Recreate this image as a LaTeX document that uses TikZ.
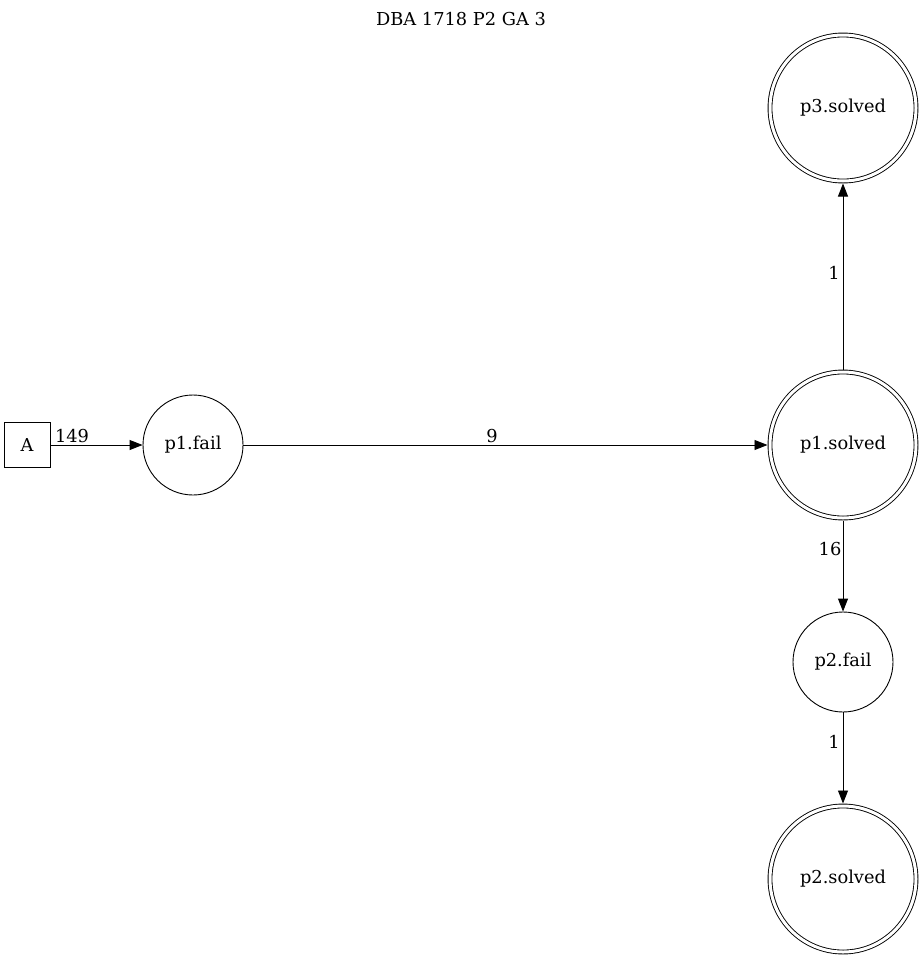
\documentclass[tikz,border=0pt]{standalone}
\usepackage{fontspec}
\setmainfont{DejaVu Serif}
\usetikzlibrary{arrows.meta}
\begin{document}
\begin{tikzpicture}[x=1bp,y=-1bp,
  every node/.style={font=\fontsize{17.8bp}{20bp}\selectfont},
  state/.style={draw,circle,line width=0.9bp,minimum size=100bp,inner sep=0pt},
  final/.style={draw,circle,line width=0.9bp,double,double distance=3bp,minimum size=146bp,inner sep=0pt,outer sep=2.5bp},
  start/.style={draw,rectangle,line width=0.9bp,minimum width=46bp,minimum height=45bp,inner sep=0pt},
  edge/.style={line width=0.9bp,-{Triangle[length=13bp,width=10bp]}},
  lbl/.style={inner sep=0pt}]
  \useasboundingbox (0,0) rectangle (923,960);
  % title
  \node[lbl] (title) at (461,19) {DBA 1718 P2 GA 3};
  % nodes
  \node[start] (A) at (27,445) {A};
  \node[state] (p1f) at (193,445) {p1.fail};
  \node[final] (p1s) at (843,445) {p1.solved};
  \node[final] (p3s) at (843,108) {p3.solved};
  \node[state] (p2f) at (843,662) {p2.fail};
  \node[final] (p2s) at (843,879) {p2.solved};
  % transitions
  \draw[edge] (A) -- (p1f);
  \draw[edge] (p1f) -- (p1s);
  \draw[edge] (p1s) -- (p3s);
  \draw[edge] (p1s) -- (p2f);
  \draw[edge] (p2f) -- (p2s);
  % counts
  \node[lbl] (l149) at (72,436) {149};
  \node[lbl] (l9) at (492,436) {9};
  \node[lbl] (l1a) at (834,273) {1};
  \node[lbl] (l16) at (830,549) {16};
  \node[lbl] (l1b) at (834,742) {1};
\end{tikzpicture}
\end{document}
